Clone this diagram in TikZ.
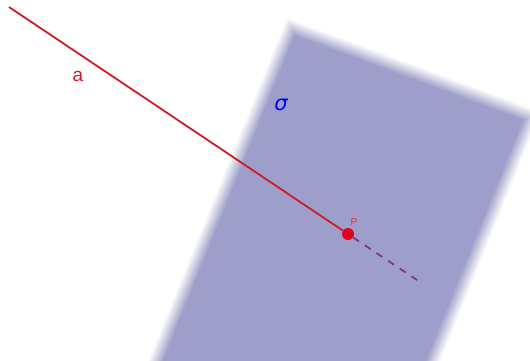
\documentclass[tikz,border=0pt]{standalone}
\usepackage{fontspec}
\setmainfont{Liberation Sans}
\newfontfamily\sigfont{DejaVu Sans}
\definecolor{planecol}{RGB}{158,158,203}
\definecolor{linered}{RGB}{205,28,40}
\definecolor{dashpurple}{RGB}{122,58,128}
\definecolor{pointred}{RGB}{225,0,25}
\definecolor{labelred}{RGB}{240,40,60}
\tikzset{
  lineseg/.style={draw=linered,line width=1.8pt},
  hiddenseg/.style={draw=dashpurple,line width=1.8pt,dash pattern=on 7pt off 7pt},
  pointdot/.style={circle,fill=pointred,minimum size=12pt,inner sep=0pt},
  endpt/.style={coordinate}
}
\begin{document}
\begin{tikzpicture}[x=1pt,y=-1pt]
\useasboundingbox (0,0) rectangle (530,360);
\fill[white] (0,0) rectangle (530,360);
\begin{scope}
\clip (0,0) rectangle (530,360);
\foreach \i in {0,...,25}{
  \pgfmathsetmacro{\p}{(\i+1)/26*100}
  \pgfmathsetmacro{\q}{\i*0.56}
  \pgfmathsetmacro{\ax}{287+\q*(.9378-.3754)}
  \pgfmathsetmacro{\ay}{18+\q*(.3471+.9269)}
  \pgfmathsetmacro{\bx}{541-\q*(.9378+.3754)}
  \pgfmathsetmacro{\by}{112+\q*(-.3471+.9269)}
  \fill[planecol!\p!white] (\ax,\ay) -- (\bx,\by) -- (\bx-202,\by+500) -- (\ax-202,\ay+500) -- cycle;
}
\end{scope}
\coordinate[endpt] (A) at (9,7);
\coordinate[endpt] (E) at (417,280);
\node[pointdot] (P) at (348,234) {};
\draw[hiddenseg] (P) -- (E);
\draw[lineseg] (A) -- (P);
\node[text=linered,font=\fontsize{19}{19}\selectfont] (la) at (78,76) {a};
\node[text=labelred,font=\fontsize{10}{10}\selectfont] (lp) at (354,222) {P};
\node[text=blue,font=\sigfont\itshape\fontsize{21}{21}\selectfont] (ls) at (281,105) {σ};
\end{tikzpicture}
\end{document}
